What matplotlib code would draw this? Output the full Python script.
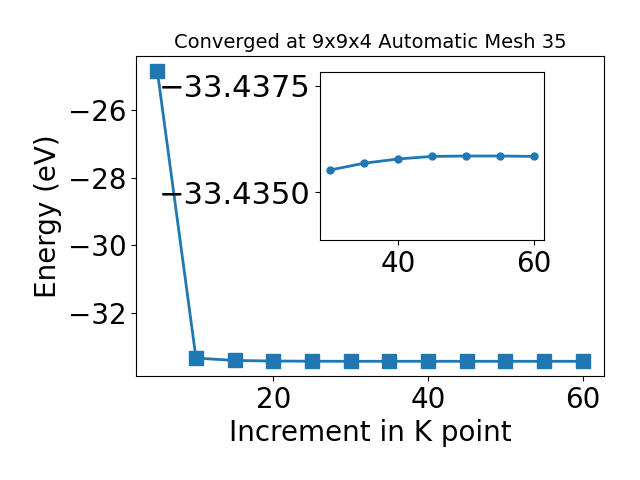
import matplotlib
matplotlib.use("Agg")
import matplotlib.pyplot as plt

# incremento dos pontos K e energias
k_points = [5, 10, 15, 20, 25, 30, 35, 40, 45, 50, 55, 60]
energias = [-24.82, -33.34, -33.41, -33.428, -33.433, -33.43552, -33.43568,
            -33.43578, -33.43584, -33.43585, -33.43585, -33.43584]

# pontos do detalhe (30 a 60)
k_zoom = k_points[5:]
e_zoom = energias[5:]

fig = plt.figure(figsize=(6.4, 4.8), dpi=100)
ax = fig.add_axes([0.2125, 0.217, 0.7315, 0.666])
ax.plot(k_points, energias, marker='s', markersize=10, linewidth=2, color='#1f77b4')
ax.set_title("Converged at 9x9x4 Automatic Mesh 35", fontsize=14)
ax.set_xlabel("Increment in K point", fontsize=20)
ax.set_ylabel("Energy (eV)", fontsize=20)
ax.tick_params(axis='both', which='major', labelsize=20)
ax.set_yticks([-32, -30, -28, -26])

# gráfico interno
ins = fig.add_axes([0.5, 0.5, 0.35, 0.35])
ins.plot(k_zoom, e_zoom, marker='o', markersize=5, linewidth=2, color='#1f77b4')
ins.set_ylim(-33.43387, -33.43783)
ins.set_yticks([-33.4375, -33.4350])
ins.set_xticks([40, 60])
ins.ticklabel_format(axis='y', useOffset=False)
ins.tick_params(axis='x', which='major', labelsize=20)
ins.tick_params(axis='y', which='major', labelsize=22)

plt.savefig('out.png', dpi=100)
